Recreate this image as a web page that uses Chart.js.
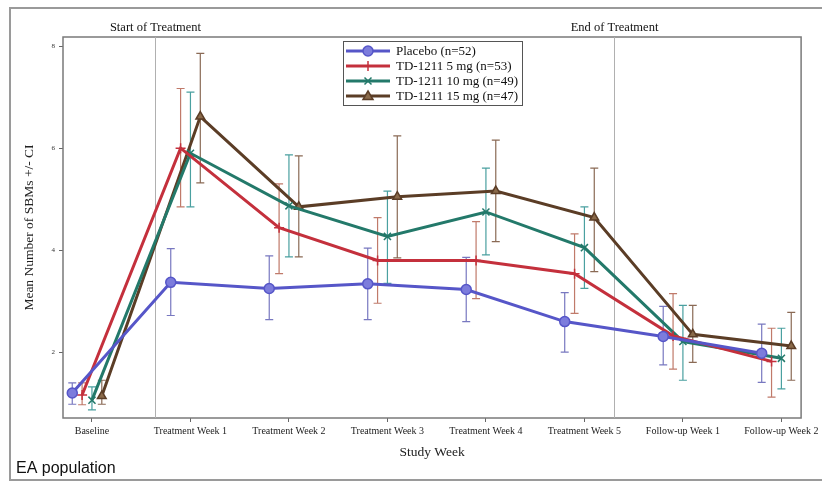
<!DOCTYPE html>
<html>
<head>
<meta charset="utf-8">
<script src="https://cdn.jsdelivr.net/npm/chart.js@4.4.1/dist/chart.umd.min.js"></script>
<style>
  html, body { margin: 0; padding: 0; background: #fff; }
  #wrap { position: relative; width: 822px; height: 482px; }
</style>
</head>
<body>
<div id="wrap"><canvas id="myChart"></canvas></div>
<script>
// study weeks shown on the x axis
const weeks = [
  'Baseline',
  'Treatment Week 1',
  'Treatment Week 2',
  'Treatment Week 3',
  'Treatment Week 4',
  'Treatment Week 5',
  'Follow-up Week 1',
  'Follow-up Week 2',
];
const seriesNames = ['Placebo (n=52)', 'TD-1211 5 mg (n=53)', 'TD-1211 10 mg (n=49)', 'TD-1211 15 mg (n=47)'];

// mean number of SBMs and the CI bounds
const placeboMean = [1.20, 3.37, 3.25, 3.34, 3.23, 2.60, 2.31, 1.98];
const placeboLow  = [0.98, 2.72, 2.64, 2.64, 2.60, 2.00, 1.75, 1.41];
const placeboHigh = [1.40, 4.03, 3.89, 4.04, 3.86, 3.17, 2.90, 2.55];

const mg5Mean = [1.16, 6.00, 4.44, 3.80, 3.80, 3.54, 2.32, 1.82];
const mg5Low  = [0.97, 4.85, 3.54, 2.96, 3.05, 2.76, 1.67, 1.12];
const mg5High = [1.40, 7.17, 5.30, 4.64, 4.56, 4.32, 3.15, 2.47];

const mg10Mean = [1.06, 5.90, 4.87, 4.27, 4.75, 4.05, 2.21, 1.88];
const mg10Low  = [0.87, 4.85, 3.87, 3.35, 3.91, 3.25, 1.45, 1.28];
const mg10High = [1.32, 7.10, 5.87, 5.16, 5.61, 4.85, 2.92, 2.47];

const mg15Mean = [1.14, 6.62, 4.85, 5.05, 5.16, 4.64, 2.35, 2.12];
const mg15Low  = [0.98, 5.32, 3.87, 3.85, 4.17, 3.58, 1.80, 1.45];
const mg15High = [1.45, 7.86, 5.85, 6.24, 6.16, 5.61, 2.92, 2.78];

const yTicks = [2, 4, 6, 8];
// reference lines (in week units) and their headers
const phaseLines = [0.64, 5.3];
const phaseLabels = ['Start of Treatment', 'End of Treatment'];

const serif = "'Liberation Serif', 'DejaVu Serif', serif";

function toPoints(means, shift) {
  return means.map((v, i) => ({ x: i + shift, y: v }));
}

function makeSeries(label, means, lo, hi, shift, color, errColor, fill, style) {
  return {
    label: label,
    data: toPoints(means, shift),
    lo: lo,
    hi: hi,
    errColor: errColor,
    borderColor: color,
    backgroundColor: fill,
    borderWidth: 3,
    pointStyle: style,
    pointRadius: style === 'circle' ? 5 : 5,
    pointBorderWidth: 1.5,
    pointBorderColor: color,
    pointBackgroundColor: fill,
    tension: 0,
  };
}

function drawMarker(ctx, style, x, y, r, color, fill) {
  ctx.save();
  ctx.strokeStyle = color;
  ctx.fillStyle = fill;
  ctx.lineWidth = 1.5;
  ctx.beginPath();
  if (style === 'circle') {
    ctx.arc(x, y, r, 0, Math.PI * 2);
    ctx.fill();
    ctx.stroke();
  } else if (style === 'cross') {
    ctx.moveTo(x - r, y); ctx.lineTo(x + r, y);
    ctx.moveTo(x, y - r); ctx.lineTo(x, y + r);
    ctx.stroke();
  } else if (style === 'crossRot') {
    ctx.moveTo(x - r * 0.7, y - r * 0.7); ctx.lineTo(x + r * 0.7, y + r * 0.7);
    ctx.moveTo(x - r * 0.7, y + r * 0.7); ctx.lineTo(x + r * 0.7, y - r * 0.7);
    ctx.stroke();
  } else {
    ctx.moveTo(x, y - r);
    ctx.lineTo(x + r, y + r * 0.7);
    ctx.lineTo(x - r, y + r * 0.7);
    ctx.closePath();
    ctx.fill();
    ctx.stroke();
  }
  ctx.restore();
}

const errorBars = {
  id: 'errorBars',
  beforeDatasetsDraw(chart) {
    const { ctx, scales: { x, y } } = chart;
    chart.data.datasets.forEach((ds) => {
      ctx.save();
      ctx.strokeStyle = ds.errColor;
      ctx.lineWidth = 1.2;
      ds.data.forEach((p, i) => {
        const px = x.getPixelForValue(p.x);
        const top = y.getPixelForValue(ds.hi[i]);
        const bot = y.getPixelForValue(ds.lo[i]);
        ctx.beginPath();
        ctx.moveTo(px, top); ctx.lineTo(px, bot);
        ctx.moveTo(px - 4, top); ctx.lineTo(px + 4, top);
        ctx.moveTo(px - 4, bot); ctx.lineTo(px + 4, bot);
        ctx.stroke();
      });
      ctx.restore();
    });
  }
};

const decorations = {
  id: 'decorations',
  beforeDatasetsDraw(chart) {
    const { ctx, chartArea: a, scales: { x } } = chart;
    ctx.save();
    // outer frame
    ctx.strokeStyle = '#9a9a9a';
    ctx.lineWidth = 2;
    ctx.strokeRect(10, 8, 830, 472);
    // plot box
    ctx.strokeStyle = '#7a7a7a';
    ctx.lineWidth = 1.5;
    ctx.strokeRect(a.left, a.top, a.right - a.left, a.bottom - a.top);
    // start / end of treatment
    ctx.strokeStyle = '#b0b0b0';
    ctx.lineWidth = 1;
    ctx.fillStyle = '#111';
    ctx.font = '12.5px ' + serif;
    ctx.textAlign = 'center';
    ctx.textBaseline = 'middle';
    phaseLines.forEach((v, i) => {
      const px = Math.round(x.getPixelForValue(v)) + 0.5;
      ctx.beginPath();
      ctx.moveTo(px, a.top);
      ctx.lineTo(px, a.bottom);
      ctx.stroke();
      ctx.fillText(phaseLabels[i], px, a.top - 9);
    });
    // footnote
    ctx.font = "16px 'Liberation Sans', Arial, sans-serif";
    ctx.textAlign = 'left';
    ctx.textBaseline = 'alphabetic';
    ctx.fillStyle = '#111';
    ctx.fillText('EA population', 16, 473);
    ctx.restore();
  },
  afterDraw(chart) {
    const { ctx, chartArea: a } = chart;
    const left = a.left + 280, top = a.top + 4, w = 179, rowH = 15;
    const sets = chart.data.datasets;
    ctx.save();
    ctx.fillStyle = '#fff';
    ctx.fillRect(left, top, w, rowH * sets.length + 4);
    ctx.strokeStyle = '#555';
    ctx.lineWidth = 1;
    ctx.strokeRect(left + 0.5, top + 0.5, w, rowH * sets.length + 4);
    ctx.font = '13px ' + serif;
    ctx.textBaseline = 'middle';
    ctx.textAlign = 'left';
    sets.forEach((ds, i) => {
      const cy = top + 10 + i * rowH;
      ctx.strokeStyle = ds.borderColor;
      ctx.lineWidth = 3;
      ctx.beginPath();
      ctx.moveTo(left + 3, cy);
      ctx.lineTo(left + 47, cy);
      ctx.stroke();
      drawMarker(ctx, ds.pointStyle, left + 25, cy, 5, ds.borderColor, ds.pointBackgroundColor);
      ctx.fillStyle = '#111';
      ctx.fillText(ds.label, left + 53, cy + 1);
    });
    ctx.restore();
  }
};

const config = {
  type: 'line',
  data: {
    datasets: [
      makeSeries(seriesNames[0], placeboMean, placeboLow, placeboHigh, -0.2, '#5656c8', '#7878c0', '#7c7cdc', 'circle'),
      makeSeries(seriesNames[1], mg5Mean, mg5Low, mg5High, -0.1, '#c4303c', '#c07a6a', '#c4303c', 'cross'),
      makeSeries(seriesNames[2], mg10Mean, mg10Low, mg10High, 0, '#23796a', '#4aa0a0', '#23796a', 'crossRot'),
      makeSeries(seriesNames[3], mg15Mean, mg15Low, mg15High, 0.1, '#5b3d26', '#8a6a55', '#8a6a4a', 'triangle'),
    ]
  },
  options: {
    responsive: true,
    maintainAspectRatio: false,
    animation: false,
    layout: { padding: { left: 0, top: 37, right: 19, bottom: 0 } },
    plugins: {
      legend: { display: false },
      tooltip: { enabled: false },
    },
    scales: {
      x: {
        type: 'linear',
        min: -0.294,
        max: 7.2,
        afterBuildTicks: (scale) => {
          scale.ticks = weeks.map((w, i) => ({ value: i }));
        },
        afterFit: (scale) => { scale.height = 64; },
        ticks: {
          autoSkip: false,
          maxRotation: 0,
          padding: 3,
          color: '#222',
          font: { family: serif, size: 10 },
          callback: (v) => weeks[v],
        },
        grid: { drawOnChartArea: false, drawTicks: true, tickLength: 4, color: '#666' },
        border: { display: false },
        title: {
          display: true,
          text: 'Study Week',
          color: '#222',
          font: { family: serif, size: 13.5 },
          padding: { top: 0, bottom: 21 },
        },
      },
      y: {
        type: 'linear',
        min: 0.71,
        max: 8.18,
        afterBuildTicks: (scale) => {
          scale.ticks = yTicks.map((v) => ({ value: v }));
        },
        afterFit: (scale) => { scale.width = 63; },
        ticks: {
          padding: 4,
          color: '#333',
          font: { family: serif, size: 7 },
        },
        grid: { drawOnChartArea: false, drawTicks: true, tickLength: 4, color: '#666' },
        border: { display: false },
        title: {
          display: true,
          text: 'Mean Number of SBMs +/- CI',
          color: '#222',
          font: { family: serif, size: 13.5 },
          padding: { top: 21, bottom: 0 },
        },
      },
    },
  },
  plugins: [decorations, errorBars],
};

new Chart(document.getElementById('myChart'), config);
</script>
</body>
</html>
